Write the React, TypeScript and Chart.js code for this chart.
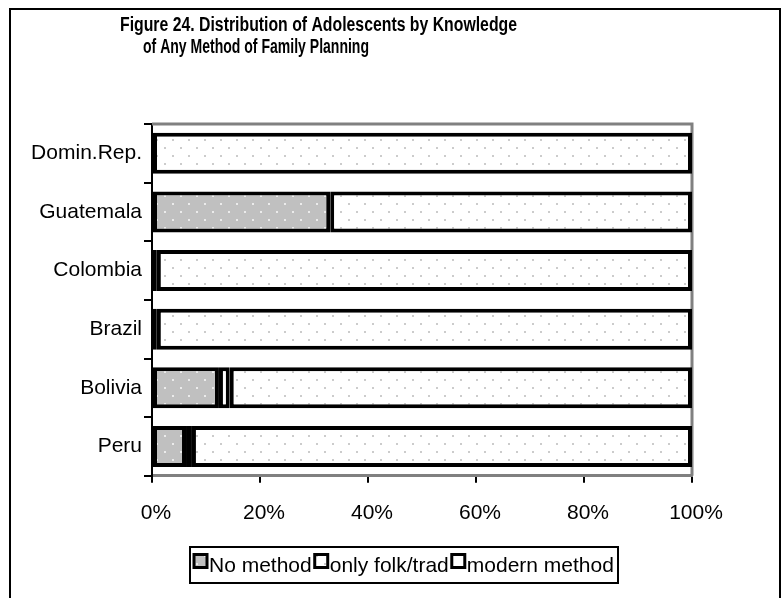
import React, { useEffect, useRef } from 'react';
import { Chart, registerables } from 'chart.js';

Chart.register(...registerables);

const categories = ['Domin.Rep.', 'Guatemala', 'Colombia', 'Brazil', 'Bolivia', 'Peru'];
const noMethod = [0, 33, 0, 0, 12.4, 6.3];
const folkTrad = [0, 0, 0.9, 0.9, 2.0, 1.1];
const modernMethod = [100, 67, 99.1, 99.1, 85.6, 92.6];
const seriesNames = ['No method', 'only folk/trad', 'modern method'];
const xTicks = [0, 20, 40, 60, 80, 100];
const titleLines = [
  'Figure 24. Distribution of Adolescents by Knowledge',
  'of Any Method of Family Planning',
];

const FAMILY = '"Liberation Sans", Arial, sans-serif';

function makePattern(bg: string, dot: string): CanvasPattern | string {
  const c = document.createElement('canvas');
  c.width = 16;
  c.height = 16;
  const g = c.getContext('2d');
  if (!g) return bg;
  g.fillStyle = bg;
  g.fillRect(0, 0, 16, 16);
  g.fillStyle = dot;
  g.fillRect(4, 3, 2, 2);
  g.fillRect(12, 11, 2, 2);
  return g.createPattern(c, 'repeat') || bg;
}

function makeDecor(legendFills: any[]) {
  return {
    id: 'decor',
    beforeDraw(chart: any) {
      const ctx = chart.ctx;
      ctx.save();
      ctx.fillStyle = '#ffffff';
      ctx.fillRect(0, 0, chart.width, chart.height);
      ctx.restore();
    },
    beforeDatasetsDraw(chart: any) {
      const { ctx, chartArea } = chart;
      ctx.save();
      ctx.strokeStyle = '#808080';
      ctx.lineWidth = 3;
      ctx.beginPath();
      ctx.moveTo(chartArea.left, chartArea.top);
      ctx.lineTo(chartArea.right, chartArea.top);
      ctx.lineTo(chartArea.right, chartArea.bottom);
      ctx.stroke();
      ctx.restore();
    },
    afterDraw(chart: any) {
      const ctx = chart.ctx;
      ctx.save();
      // outer frame
      ctx.strokeStyle = '#000';
      ctx.lineWidth = 2;
      ctx.strokeRect(10, 9, 770, 620);
      // title (condensed bold, as in the original)
      ctx.fillStyle = '#000';
      ctx.font = 'bold 20px ' + FAMILY;
      ctx.textBaseline = 'alphabetic';
      ctx.textAlign = 'left';
      const w1 = ctx.measureText(titleLines[0]).width;
      const w2 = ctx.measureText(titleLines[1]).width;
      ctx.save();
      ctx.translate(120, 31);
      ctx.scale(397 / w1, 1);
      ctx.fillText(titleLines[0], 0, 0);
      ctx.restore();
      ctx.save();
      ctx.translate(143, 53);
      ctx.scale(226 / w2, 1);
      ctx.fillText(titleLines[1], 0, 0);
      ctx.restore();
      // legend
      ctx.font = '21px ' + FAMILY;
      const box = 13;
      const gapBT = 2;
      const gapTB = 3;
      const widths = seriesNames.map((n) => ctx.measureText(n).width);
      let total = 0;
      widths.forEach((w, i) => {
        total += box + gapBT + w + (i < widths.length - 1 ? gapTB : 0);
      });
      const frameRight = 618;
      const top = 547;
      const h = 36;
      const frameLeft = Math.round(frameRight - total - 8);
      let x = frameLeft + 4;
      ctx.strokeStyle = '#000';
      ctx.lineWidth = 2;
      ctx.strokeRect(frameLeft, top, frameRight - frameLeft, h);
      const yMid = top + h / 2;
      seriesNames.forEach((n, i) => {
        const by = yMid - box / 2 - 4;
        ctx.fillStyle = legendFills[i];
        ctx.fillRect(x, by, box, box);
        ctx.lineWidth = 3;
        ctx.strokeRect(x, by, box, box);
        ctx.fillStyle = '#000';
        ctx.textAlign = 'left';
        ctx.textBaseline = 'middle';
        ctx.fillText(n, x + box + gapBT, yMid + 1);
        x += box + gapBT + widths[i] + gapTB;
      });
      ctx.restore();
    },
  };
}

export default function App() {
  const ref = useRef<HTMLCanvasElement>(null);
  useEffect(() => {
    const canvas = ref.current;
    if (!canvas) return;
    const grayDots = makePattern('#c0c0c0', '#ebebeb');
    const whiteDots = makePattern('#ffffff', '#cccccc');
    const fills = [grayDots, '#ffffff', whiteDots];
    const legendFills = [grayDots, whiteDots, '#ffffff'];
    const series = [noMethod, folkTrad, modernMethod];
    const chart = new Chart(canvas, {
      type: 'bar',
      data: {
        labels: categories,
        datasets: series.map((d, i) => ({
          label: seriesNames[i],
          data: d,
          backgroundColor: fills[i] as any,
          borderColor: '#000',
          borderWidth: 4,
          borderSkipped: false,
          barPercentage: 0.7,
          categoryPercentage: 1,
        })),
      },
      options: {
        indexAxis: 'y',
        responsive: false,
        maintainAspectRatio: false,
        animation: false,
        font: { family: FAMILY },
        layout: { padding: { top: 124, left: 10, right: 92, bottom: 54 } },
        scales: {
          x: {
            stacked: true,
            min: 0,
            max: 100,
            afterBuildTicks: (s: any) => {
              s.ticks = xTicks.map((v) => ({ value: v }));
            },
            ticks: {
              callback: (v: any) => v + '%',
              color: '#000',
              font: { size: 21, family: FAMILY },
              padding: 18,
              labelOffset: 4,
              maxRotation: 0,
            },
            grid: { drawOnChartArea: false, drawTicks: true, tickLength: 7, color: '#000', lineWidth: 2 },
            border: { color: '#808080', width: 3 },
          },
          y: {
            stacked: true,
            ticks: { color: '#000', font: { size: 21, family: FAMILY }, padding: 2 },
            grid: { offset: true, drawOnChartArea: false, drawTicks: true, tickLength: 8, color: '#000', lineWidth: 2 },
            border: { color: '#000', width: 2 },
            afterFit: (s: any) => {
              s.width = 142;
            },
          },
        },
        plugins: {
          title: { display: false },
          tooltip: { enabled: false },
          legend: { display: false },
        },
      },
      plugins: [makeDecor(legendFills)],
    });
    return () => chart.destroy();
  }, []);
  return (
    <div style={{ position: 'absolute', left: 0, top: 0, width: 784, height: 598, background: '#fff' }}>
      <canvas ref={ref} width={784} height={598} style={{ display: 'block', width: 784, height: 598 }} />
    </div>
  );
}
